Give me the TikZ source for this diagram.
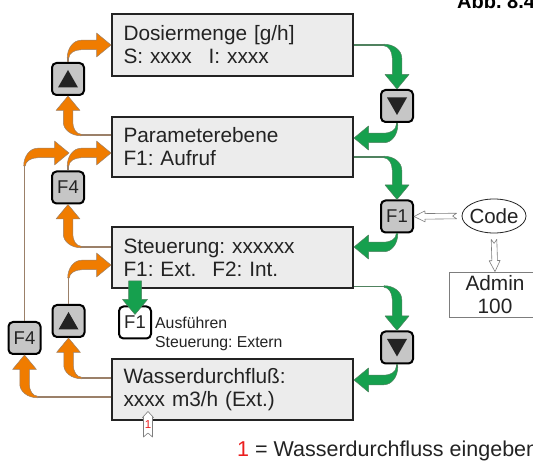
\documentclass[tikz,border=0pt]{standalone}
\usepackage{fontspec}
\setmainfont{Liberation Sans}
\usetikzlibrary{shapes.geometric,calc}
\frenchspacing

\definecolor{bandorange}{RGB}{240,124,0}
\definecolor{bandorangeedge}{RGB}{155,128,105}
\definecolor{bandgreen}{RGB}{22,160,78}
\definecolor{bandgreenedge}{RGB}{80,130,95}
\definecolor{boxfill}{RGB}{236,236,236}
\definecolor{keyfill}{RGB}{198,198,198}
\definecolor{inkdark}{RGB}{35,35,35}
\definecolor{markred}{RGB}{235,30,30}
\definecolor{hollowedge}{RGB}{125,125,125}

% geometry of the bent band arrows (pt)
\def\bandR{13}\def\bandW{9.5}\def\bandWo{1.6}\def\bandHW{12}\def\bandHL{14.5}

\tikzset{
  othin/.style={draw=bandorangeedge, line width=1.6pt},
  oband/.style={fill=bandorange, draw=bandorangeedge, line width=0.5pt, line join=round},
  gthin/.style={draw=bandgreenedge, line width=1.6pt},
  gband/.style={fill=bandgreen, draw=bandgreenedge, line width=0.5pt, line join=round},
  hollow/.style={fill=white, draw=hollowedge, line width=0.6pt, line join=round},
  menubox/.style={draw=inkdark, fill=boxfill, line width=2pt, minimum width=241pt,
    text width=218pt, inner xsep=11.5pt, align=left, text=inkdark,
    font=\fontsize{20.8}{23}\selectfont},
  keybtn/.style={draw=black, fill=keyfill, line width=2pt, rounded corners=4.5pt,
    minimum size=32pt, inner sep=0pt, text=inkdark, font=\fontsize{18.5}{20}\selectfont},
}

% bent band arrow: thin lead-in, tapering curve, thick leg with head
% #1 start, #2 end, #3 initial heading (deg), #4 colour set (o/g)
\newcommand\bandarrow[4]{%
  \path let \p1=(#1), \p2=(#2),
      \n1={(\x2-\x1)*cos(#3)+(\y2-\y1)*sin(#3)},
      \n2={(\x2-\x1)*sin(#3)-(\y2-\y1)*cos(#3)}
    in \pgfextra{\xdef\bandX{\x1}\xdef\bandY{\y1}\xdef\bandL{\n1}\xdef\bandH{\n2}};
  \begin{scope}[shift={(\bandX,\bandY)},rotate=#3,x=1pt,y=1pt]
    \draw[#4thin] (0,0) -- ({\bandL-\bandR},0);
    \filldraw[#4band]
      ({\bandL-\bandR},{\bandWo/2})
      .. controls ({\bandL-\bandR+0.55*(\bandR+\bandW/2)},{\bandWo/2})
              and ({\bandL+\bandW/2},{-\bandR+0.55*(\bandR+\bandWo/2)}) ..
      ({\bandL+\bandW/2},{-\bandR})
      -- ({\bandL+\bandW/2},{-\bandH+\bandHL})
      -- ({\bandL+\bandHW},{-\bandH+\bandHL})
      -- ({\bandL},{-\bandH})
      -- ({\bandL-\bandHW},{-\bandH+\bandHL})
      -- ({\bandL-\bandW/2},{-\bandH+\bandHL})
      -- ({\bandL-\bandW/2},{-\bandR})
      .. controls ({\bandL-\bandW/2},{-\bandR+0.55*(\bandR-\bandWo/2)})
              and ({\bandL-\bandR+0.55*(\bandR-\bandW/2)},{-\bandWo/2}) ..
      ({\bandL-\bandR},{-\bandWo/2}) -- cycle;
  \end{scope}}

% straight block arrow: #1 style, #2 tail, #3 tip, #4 shaft half width,
% #5 head half width, #6 head length, #7 tail notch depth
\newcommand\blockarrow[7]{%
  \path let \p1=(#2), \p2=(#3),
      \n1={atan2(\y2-\y1,\x2-\x1)}, \n2={veclen(\x2-\x1,\y2-\y1)}
    in \pgfextra{\xdef\arrX{\x1}\xdef\arrY{\y1}\xdef\arrA{\n1}\xdef\arrL{\n2}};
  \begin{scope}[shift={(\arrX,\arrY)},rotate=\arrA,x=1pt,y=1pt]
    \filldraw[#1] (0,#4) -- ({\arrL-#6},#4) -- ({\arrL-#6},#5) -- (\arrL,0)
      -- ({\arrL-#6},-#5) -- ({\arrL-#6},-#4) -- (0,-#4) -- (#7,0) -- cycle;
  \end{scope}}

\newcommand\uptri[1]{\fill[inkdark] ([shift={(-10pt,-8.5pt)}]#1.center)
  -- ([shift={(10pt,-8.5pt)}]#1.center) -- ([shift={(0pt,9pt)}]#1.center) -- cycle;}
\newcommand\downtri[1]{\fill[inkdark] ([shift={(-10pt,8.5pt)}]#1.center)
  -- ([shift={(10pt,8.5pt)}]#1.center) -- ([shift={(0pt,-9pt)}]#1.center) -- cycle;}

\begin{document}
\begin{tikzpicture}[x=1pt,y=-1pt]
\useasboundingbox (0,0) rectangle (533,462);
\clip (0,0) rectangle (533,462);

% menu screens
\node[menubox, minimum height=62pt] (dos) at (232.5,45)
  {Dosiermenge [g/h]\\S: xxxx\hspace{17pt}I: xxxx};
\node[menubox, minimum height=60pt] (par) at (232.5,147)
  {Parameterebene\\F1: Aufruf};
\node[menubox, minimum height=61pt] (ste) at (232.5,257.5)
  {Steuerung: xxxxxx\\F1: Ext.\hspace{16pt}F2: Int.};
\node[menubox, minimum height=61pt] (was) at (232.5,389.5)
  {Wasserdurchfluß:\\xxxx m3/h (Ext.)};

% keys
\node[keybtn] (atop) at (68,79) {};
\node[keybtn] (f4u) at (68,187.5) {F4};
\node[keybtn] (alow) at (68.5,321) {};
\node[keybtn] (f4l) at (24.5,338) {F4};
\node[keybtn, fill=white] (f1w) at (135,322.5) {F1};
\node[keybtn] (dtop) at (397,106) {};
\node[keybtn] (f1r) at (397,216.5) {F1};
\node[keybtn] (dlow) at (397,347.5) {};
\uptri{atop}\uptri{alow}
\downtri{dtop}\downtri{dlow}

\node[anchor=west, inner sep=0pt, align=left, text=inkdark,
  font=\fontsize{15.8}{19.5}\selectfont] (f1txt) at (155,333.8)
  {Ausführen\\Steuerung: Extern};

% code entry
\node[ellipse, draw=inkdark, line width=0.8pt, fill=white, minimum width=64pt,
  minimum height=34pt, inner sep=0pt, text=inkdark, font=\fontsize{20.5}{22}\selectfont]
  (code) at (494,216) {\makebox[40pt]{Code}};
\node[draw=hollowedge, line width=0.8pt, minimum width=92pt, minimum height=45pt,
  align=center, inner sep=0pt, text=inkdark, font=\fontsize{20.8}{22.5}\selectfont]
  (admin) at (495,294.5) {Admin\\100};

% captions
\node[anchor=base west, inner sep=0pt, text=black, font=\bfseries\fontsize{20}{22}\selectfont]
  (abb) at (457,8.3) {Abb. 8.4};
\node[anchor=base west, inner sep=0pt, text=inkdark, font=\fontsize{21.5}{24}\selectfont]
  (legend) at (237,456) {\textcolor{markred}{1} = Wasserdurchfluss eingeben};

% join point on the F4 return path
\coordinate (jn) at (69,153);

% orange: upward / return paths
\bandarrow{[yshift=12pt]par.west}{atop.south}{180}{o}
\bandarrow{atop.north}{dos.west}{90}{o}
\bandarrow{f4l.north}{jn}{90}{o}
\bandarrow{f4u.north}{[yshift=-6pt]par.west}{90}{o}
\bandarrow{[yshift=10.5pt]ste.west}{f4u.south}{180}{o}
\bandarrow{alow.north}{[yshift=-7.5pt]ste.west}{90}{o}
\bandarrow{[yshift=11.5pt]was.west}{alow.south}{180}{o}
\bandarrow{[yshift=-7.5pt]was.west}{f4l.south}{180}{o}

% green: downward paths
\bandarrow{dos.east}{dtop.north}{0}{g}
\bandarrow{dtop.south}{[yshift=9pt]par.east}{-90}{g}
\bandarrow{[yshift=-10pt]par.east}{f1r.north}{0}{g}
\bandarrow{f1r.south}{[yshift=10.5pt]ste.east}{-90}{g}
\bandarrow{[yshift=-29pt]ste.east}{dlow.north}{0}{g}
\bandarrow{dlow.south}{[yshift=9.5pt]was.east}{-90}{g}

% F1 from the Steuerung screen
\path (f1w |- ste.south) ++(0,-8) coordinate (gs);
\path (f1w.north) ++(0,9) coordinate (ge);
\blockarrow{gband}{gs}{ge}{6.5}{12.5}{15}{0}

% code input arrows
\blockarrow{hollow}{[xshift=-5pt]code.west}{f1r.east}{2.8}{5.5}{11}{4}
\blockarrow{hollow}{[yshift=-6pt]code.south}{admin.north}{2.8}{5.5}{11}{4}

% input marker 1
\coordinate (mktail) at (148,437);
\coordinate (mktip) at (148,411.5);
\blockarrow{hollow}{mktail}{mktip}{4.5}{5.5}{6}{4}
\node[inner sep=0pt, text=markred, font=\fontsize{11.5}{11.5}\selectfont] (mk1) at (148,424.5) {1};
\end{tikzpicture}
\end{document}
